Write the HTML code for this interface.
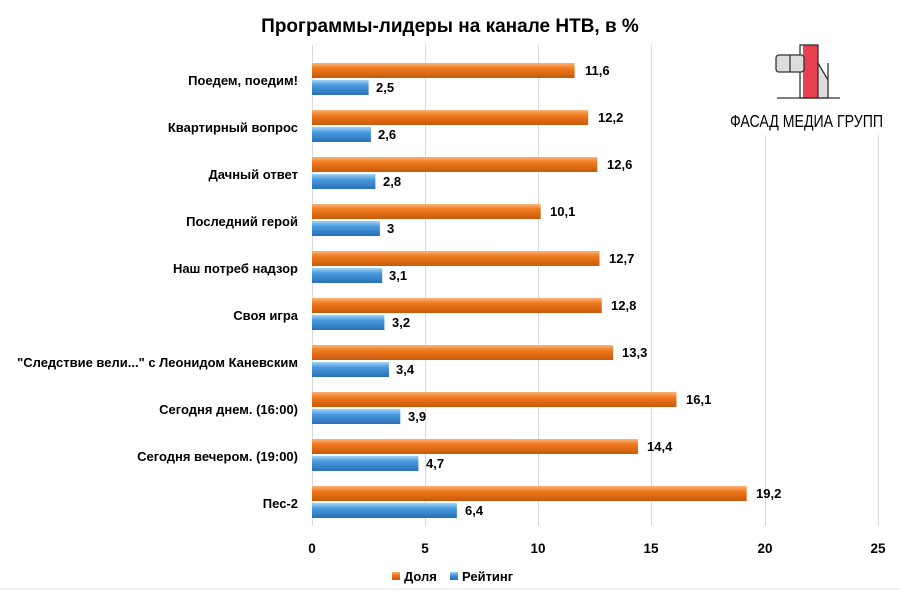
<!DOCTYPE html>
<html><head><meta charset="utf-8"><style>body{margin:0;background:#fff}svg{display:block}text{font-family:"Liberation Sans",sans-serif;font-weight:bold;fill:#000}</style></head><body>
<svg width="900" height="600" viewBox="0 0 900 600">
<defs>
<linearGradient id="o" x1="0" y1="0" x2="0" y2="1"><stop offset="0" stop-color="#f9b47a"/><stop offset="0.35" stop-color="#f07a1e"/><stop offset="1" stop-color="#c85a0a"/></linearGradient>
<linearGradient id="b" x1="0" y1="0" x2="0" y2="1"><stop offset="0" stop-color="#a5d2f4"/><stop offset="0.35" stop-color="#4a9be0"/><stop offset="1" stop-color="#2a6fb5"/></linearGradient>
</defs>
<rect width="900" height="600" fill="#fff"/>
<line x1="0" y1="589" x2="900" y2="589" stroke="#e4e4e4"/>
<text x="450" y="32" text-anchor="middle" font-size="19">Программы-лидеры на канале НТВ, в %</text>
<g stroke="#d9d9d9" stroke-width="1">
<line x1="312.5" y1="45" x2="312.5" y2="526"/><line x1="425.5" y1="45" x2="425.5" y2="526"/><line x1="538.5" y1="45" x2="538.5" y2="526"/><line x1="651.5" y1="45" x2="651.5" y2="526"/><line x1="765.5" y1="45" x2="765.5" y2="526"/><line x1="878.5" y1="45" x2="878.5" y2="526"/>
</g>
<rect x="720" y="35" width="175" height="100" fill="#fff"/>
<g font-size="13.5" text-anchor="middle">
<text x="312" y="553">0</text><text x="425" y="553">5</text><text x="538" y="553">10</text><text x="651" y="553">15</text><text x="765" y="553">20</text><text x="878" y="553">25</text>
</g>
<!-- logo -->
<g stroke="#333" stroke-width="1.3">
<rect x="803" y="45" width="15" height="53" fill="#e8414f" stroke="none"/>
<rect x="800" y="45" width="18" height="53" fill="none"/>
<rect x="776" y="55" width="28" height="17" rx="3" fill="#ddd"/>
<line x1="790" y1="55" x2="790" y2="72"/>
<path d="M818 98 V63 L828 80 V63 V98 Z" fill="#ddd"/>
<line x1="777" y1="98" x2="840" y2="98"/>
</g>
<g transform="translate(730,127) scale(1,1.2)"><text x="0" y="0" font-size="15" style="font-weight:normal" textLength="153" lengthAdjust="spacingAndGlyphs">ФАСАД МЕДИА ГРУПП</text></g>
<g font-size="13">
<rect x="392" y="572" width="8" height="8" fill="url(#o)"/><text x="404" y="581">Доля</text>
<rect x="450" y="572" width="8" height="8" fill="url(#b)"/><text x="462" y="581">Рейтинг</text>
</g>
<g font-size="13" text-anchor="end">
<text x="298" y="85">Поедем, поедим!</text>
<text x="298" y="132">Квартирный вопрос</text>
<text x="298" y="179">Дачный ответ</text>
<text x="298" y="226">Последний герой</text>
<text x="298" y="273">Наш потреб надзор</text>
<text x="298" y="320">Своя игра</text>
<text x="298" y="367">"Следствие вели..." с Леонидом Каневским</text>
<text x="298" y="414">Сегодня днем. (16:00)</text>
<text x="298" y="461">Сегодня вечером. (19:00)</text>
<text x="298" y="508">Пес-2</text>
</g>
<g font-size="13">
<rect x="312" y="63" width="262.6" height="15" fill="url(#o)"/><text x="585" y="75">11,6</text>
<rect x="312" y="80" width="56.6" height="15" fill="url(#b)"/><text x="376" y="92">2,5</text>
<rect x="312" y="110" width="276.2" height="15" fill="url(#o)"/><text x="598" y="122">12,2</text>
<rect x="312" y="127" width="58.9" height="15" fill="url(#b)"/><text x="378" y="139">2,6</text>
<rect x="312" y="157" width="285.3" height="15" fill="url(#o)"/><text x="607" y="169">12,6</text>
<rect x="312" y="174" width="63.4" height="15" fill="url(#b)"/><text x="383" y="186">2,8</text>
<rect x="312" y="204" width="228.7" height="15" fill="url(#o)"/><text x="550" y="216">10,1</text>
<rect x="312" y="221" width="67.9" height="15" fill="url(#b)"/><text x="387" y="233">3</text>
<rect x="312" y="251" width="287.5" height="15" fill="url(#o)"/><text x="609" y="263">12,7</text>
<rect x="312" y="268" width="70.2" height="15" fill="url(#b)"/><text x="389" y="280">3,1</text>
<rect x="312" y="298" width="289.8" height="15" fill="url(#o)"/><text x="611" y="310">12,8</text>
<rect x="312" y="315" width="72.4" height="15" fill="url(#b)"/><text x="392" y="327">3,2</text>
<rect x="312" y="345" width="301.1" height="15" fill="url(#o)"/><text x="622" y="357">13,3</text>
<rect x="312" y="362" width="77" height="15" fill="url(#b)"/><text x="396" y="374">3,4</text>
<rect x="312" y="392" width="364.5" height="15" fill="url(#o)"/><text x="686" y="404">16,1</text>
<rect x="312" y="409" width="88.3" height="15" fill="url(#b)"/><text x="408" y="421">3,9</text>
<rect x="312" y="439" width="326" height="15" fill="url(#o)"/><text x="647" y="451">14,4</text>
<rect x="312" y="456" width="106.4" height="15" fill="url(#b)"/><text x="426" y="468">4,7</text>
<rect x="312" y="486" width="434.7" height="15" fill="url(#o)"/><text x="756" y="498">19,2</text>
<rect x="312" y="503" width="144.9" height="15" fill="url(#b)"/><text x="465" y="515">6,4</text>
</g>
</svg>
</body></html>
